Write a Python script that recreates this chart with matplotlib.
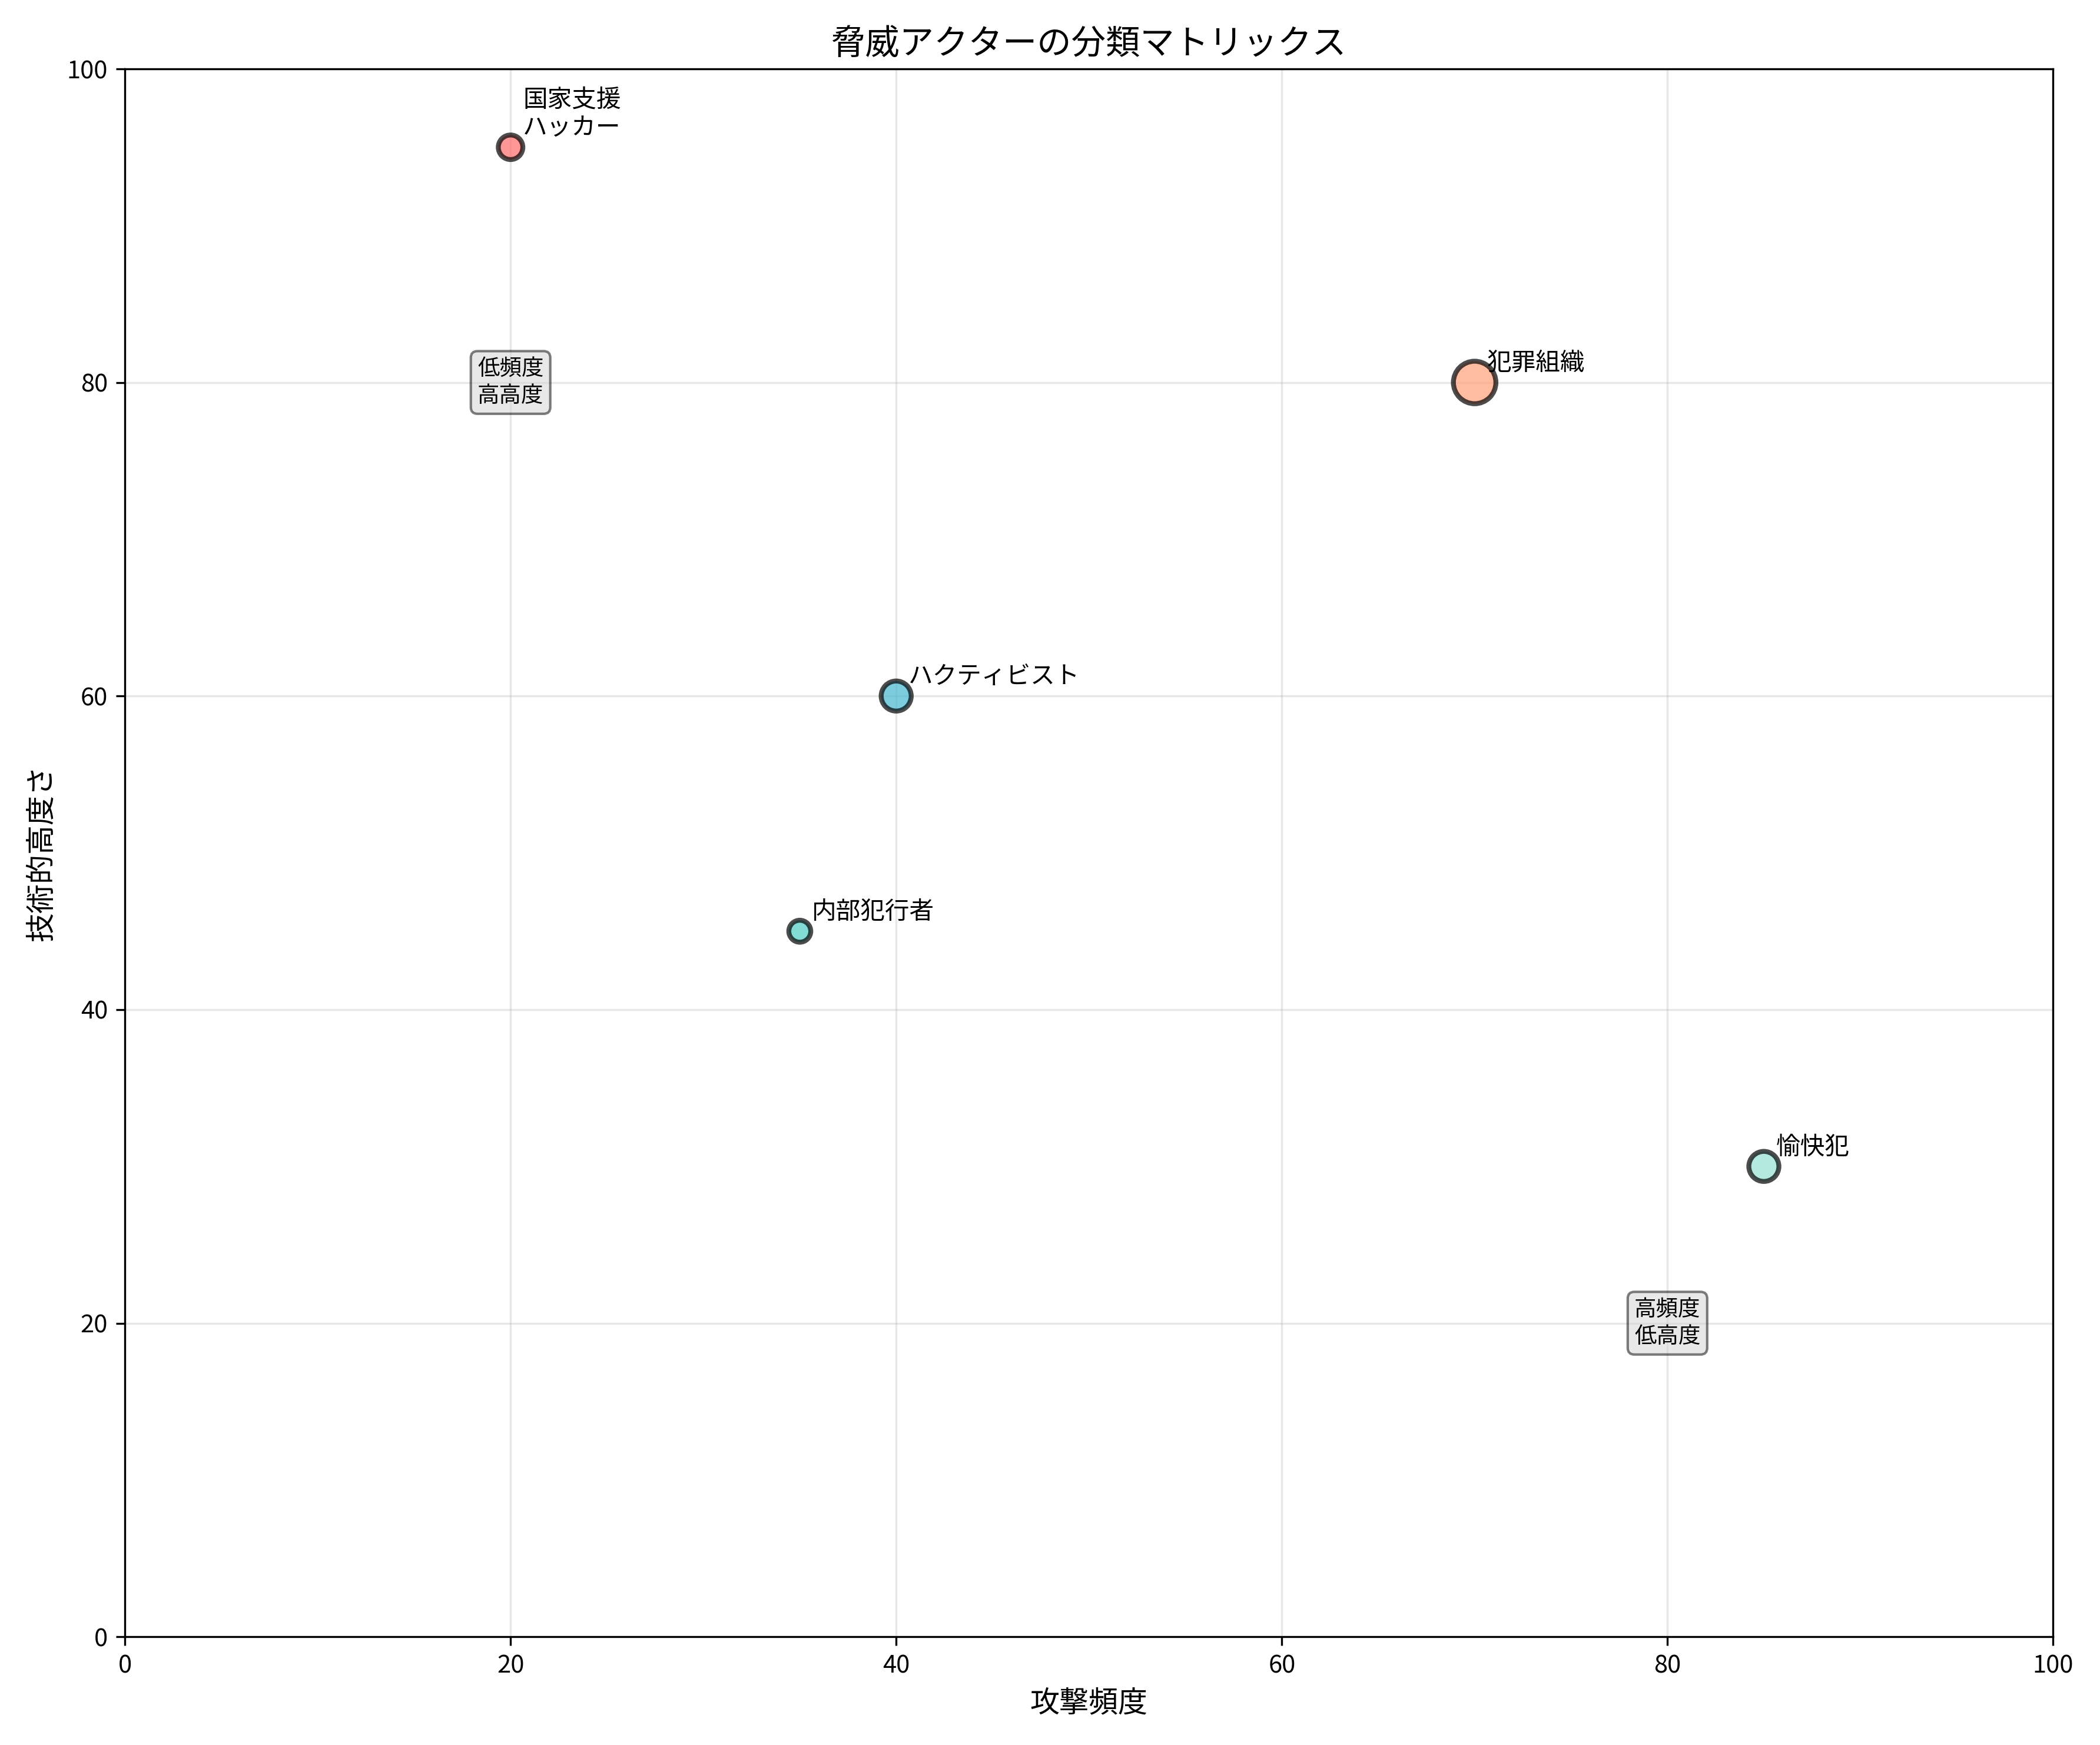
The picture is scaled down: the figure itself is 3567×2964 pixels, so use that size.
import matplotlib
matplotlib.use("Agg")
import matplotlib.pyplot as plt

plt.rcParams['font.family'] = ['Noto Sans CJK JP', 'DejaVu Sans']

names = ['国家支援\nハッカー', '犯罪組織', 'ハクティビスト', '内部犯行者', '愉快犯']
freq = [20, 70, 40, 35, 85]
soph = [95, 80, 60, 45, 30]
sizes = [100, 300, 150, 80, 150]
colors = ['#FF6B6B', '#FFA07A', '#45B7D1', '#4ECDC4', '#95E1D3']

fig, ax = plt.subplots(figsize=(11.89, 9.88), dpi=300)
ax.scatter(freq, soph, s=sizes, c=colors, alpha=0.7, edgecolors='black', linewidths=2, zorder=3)
for n, x, y in zip(names, freq, soph):
    ax.annotate(n, (x, y), xytext=(5, 5), textcoords='offset points', fontsize=10)

box = dict(boxstyle='round', facecolor='lightgray', alpha=0.5)
ax.text(20, 80, '低頻度\n高高度', ha='center', va='center', fontsize=9, bbox=box)
ax.text(80, 20, '高頻度\n低高度', ha='center', va='center', fontsize=9, bbox=box)

ax.set_xlim(0, 100)
ax.set_ylim(0, 100)
ax.set_xlabel('攻撃頻度', fontsize=12)
ax.set_ylabel('技術的高度さ', fontsize=12)
ax.set_title('脅威アクターの分類マトリックス', fontsize=14)
ax.grid(True, alpha=0.3)
fig.tight_layout()
fig.savefig('out.png', dpi=300)
